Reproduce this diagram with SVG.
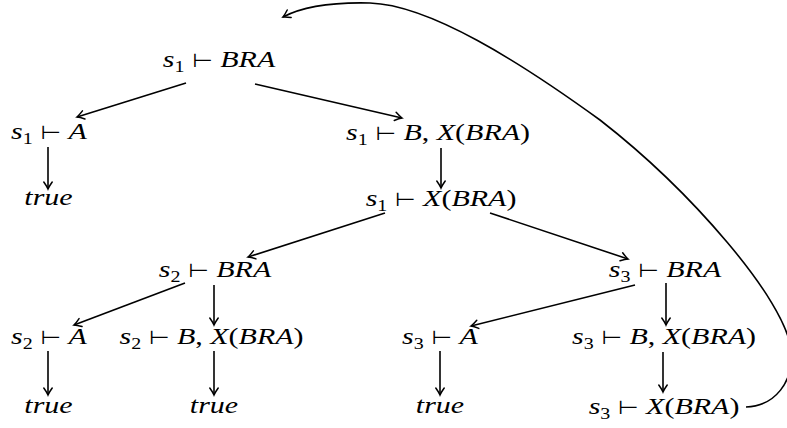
<svg xmlns="http://www.w3.org/2000/svg" width="787" height="428" viewBox="0 0 787 428">
<style>
.t{font-family:'Liberation Serif','Times New Roman',serif;font-size:24px;font-style:italic;fill:#000;text-anchor:middle}
.sub{font-size:16px;font-style:normal}
.op{font-style:normal;font-family:'DejaVu Sans',sans-serif;font-size:19px}
.up{font-style:normal}
.e{fill:none;stroke:#000;stroke-width:1.6}
</style>
<defs>
<marker id="ah" markerWidth="12" markerHeight="12" refX="0" refY="0" viewBox="-10 -6 12 12" orient="auto" markerUnits="userSpaceOnUse">
<path d="M-7,-4.2 Q-2.5,-1 0,0 Q-2.5,1 -7,4.2" fill="none" stroke="#000" stroke-width="1.5" stroke-linecap="round"/>
</marker>
</defs>
<g id="n1" transform="translate(219,67) scale(1.25,1)"><text class="t">s<tspan class="sub" dy="5">1</tspan><tspan class="op" dy="-5"> ⊢ </tspan>BRA</text></g>
<g id="n2" transform="translate(49,139) scale(1.25,1)"><text class="t">s<tspan class="sub" dy="5">1</tspan><tspan class="op" dy="-5"> ⊢ </tspan>A</text></g>
<g id="n3" transform="translate(438,140) scale(1.25,1)"><text class="t">s<tspan class="sub" dy="5">1</tspan><tspan class="op" dy="-5"> ⊢ </tspan>B<tspan class="up">, </tspan>X<tspan class="up">(</tspan>BRA<tspan class="up">)</tspan></text></g>
<g id="n4" transform="translate(48.5,205) scale(1.25,1)"><text class="t">true</text></g>
<g id="n5" transform="translate(441,206) scale(1.25,1)"><text class="t">s<tspan class="sub" dy="5">1</tspan><tspan class="op" dy="-5"> ⊢ </tspan>X<tspan class="up">(</tspan>BRA<tspan class="up">)</tspan></text></g>
<g id="n6" transform="translate(215,277) scale(1.25,1)"><text class="t">s<tspan class="sub" dy="5">2</tspan><tspan class="op" dy="-5"> ⊢ </tspan>BRA</text></g>
<g id="n7" transform="translate(665,277) scale(1.25,1)"><text class="t">s<tspan class="sub" dy="5">3</tspan><tspan class="op" dy="-5"> ⊢ </tspan>BRA</text></g>
<g id="n8" transform="translate(49,344) scale(1.25,1)"><text class="t">s<tspan class="sub" dy="5">2</tspan><tspan class="op" dy="-5"> ⊢ </tspan>A</text></g>
<g id="n9" transform="translate(211.5,344) scale(1.25,1)"><text class="t">s<tspan class="sub" dy="5">2</tspan><tspan class="op" dy="-5"> ⊢ </tspan>B<tspan class="up">, </tspan>X<tspan class="up">(</tspan>BRA<tspan class="up">)</tspan></text></g>
<g id="n10" transform="translate(440,344) scale(1.25,1)"><text class="t">s<tspan class="sub" dy="5">3</tspan><tspan class="op" dy="-5"> ⊢ </tspan>A</text></g>
<g id="n11" transform="translate(664,344) scale(1.25,1)"><text class="t">s<tspan class="sub" dy="5">3</tspan><tspan class="op" dy="-5"> ⊢ </tspan>B<tspan class="up">, </tspan>X<tspan class="up">(</tspan>BRA<tspan class="up">)</tspan></text></g>
<g id="n12" transform="translate(48.5,413) scale(1.25,1)"><text class="t">true</text></g>
<g id="n13" transform="translate(214,413) scale(1.25,1)"><text class="t">true</text></g>
<g id="n14" transform="translate(440,413) scale(1.25,1)"><text class="t">true</text></g>
<g id="n15" transform="translate(664,414) scale(1.25,1)"><text class="t">s<tspan class="sub" dy="5">3</tspan><tspan class="op" dy="-5"> ⊢ </tspan>X<tspan class="up">(</tspan>BRA<tspan class="up">)</tspan></text></g>
<g id="edges" marker-end="url(#ah)">
<path class="e" d="M186,83 L77,117"/>
<path class="e" d="M255,84 L402,118"/>
<path class="e" d="M48,147 L48,189"/>
<path class="e" d="M441,148 L441,188"/>
<path class="e" d="M385,213 L248,257"/>
<path class="e" d="M490,213 L628,259"/>
<path class="e" d="M185,283 L74,325"/>
<path class="e" d="M214,285 L214,325"/>
<path class="e" d="M635,285 L471,326"/>
<path class="e" d="M666,283 L666,325"/>
<path class="e" d="M48,351 L48,395"/>
<path class="e" d="M214,351 L214,395"/>
<path class="e" d="M440,351 L440,395"/>
<path class="e" d="M663,352 L663,392"/>
<path class="e" d="M746,407 C775,406 794,382 791,350 C786,300 690,190 600,120 C520,62 430,5 370,3 C330,2 300,8 283,17"/>
</g>
</svg>
